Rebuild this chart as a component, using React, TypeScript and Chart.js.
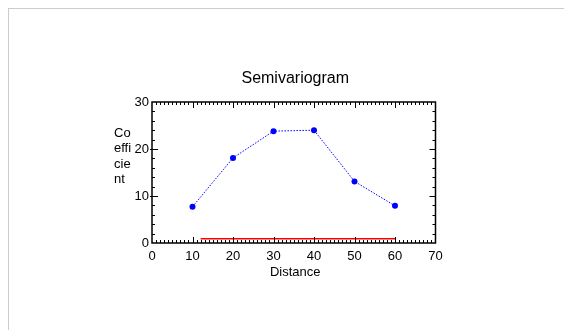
import { useEffect, useRef } from "react";
import { Chart, registerables } from "chart.js";

Chart.register(...registerables);

const distances = [10, 20, 30, 40, 50, 60];
const coefficients = [7.7, 18.1, 23.8, 24.0, 13.1, 7.9];
const sillX = [12, 60];
const sillY = [0.9, 0.9];
const xTickValues = [0, 10, 20, 30, 40, 50, 60, 70];
const yTickValues = [0, 10, 20, 30];
const titleText = "Semivariogram";
const xTitleText = "Distance";
const yTitleLines = ["Co", "effi", "cie", "nt"];

const FONT = "'Liberation Sans', Arial, sans-serif";

const framePlugin = {
  id: "frame",
  afterDraw(chart: any) {
    const { ctx, chartArea } = chart;
    const xs = chart.scales.x;
    const ys = chart.scales.y;
    const { left, right, top, bottom } = chartArea;
    ctx.save();
    ctx.strokeStyle = "#000";
    ctx.lineWidth = 1.5;
    ctx.strokeRect(left, top, right - left, bottom - top);
    ctx.lineWidth = 1;
    ctx.beginPath();
    const xMin = xTickValues[0];
    const xMax = xTickValues[xTickValues.length - 1];
    for (let v = xMin + 1; v < xMax; v++) {
      const px = Math.round(xs.getPixelForValue(v)) + 0.5;
      const len = v % 10 === 0 ? 6 : 3;
      ctx.moveTo(px, bottom);
      ctx.lineTo(px, bottom - len);
      ctx.moveTo(px, top);
      ctx.lineTo(px, top + len);
    }
    const yMin = yTickValues[0];
    const yMax = yTickValues[yTickValues.length - 1];
    for (let v = yMin + 2; v < yMax; v += 2) {
      const py = Math.round(ys.getPixelForValue(v)) + 0.5;
      const major = v % 10 === 0;
      const len = major ? 6 : 3;
      ctx.moveTo(left - (major ? 2 : 0), py);
      ctx.lineTo(left + len, py);
      ctx.moveTo(right, py);
      ctx.lineTo(right - len, py);
    }
    ctx.stroke();

    ctx.fillStyle = "#000";
    ctx.font = `16px ${FONT}`;
    ctx.textAlign = "center";
    ctx.textBaseline = "middle";
    const cx = (left + right) / 2 + 1.5;
    ctx.fillText(titleText, cx, top - 23.5);

    ctx.font = `13px ${FONT}`;
    ctx.fillText(xTitleText, cx, bottom + 29.5);

    ctx.textAlign = "left";
    yTitleLines.forEach((line, i) => {
      ctx.fillText(line, left - 38, top + 31.5 + i * 15.3);
    });
    ctx.restore();
  },
};

export default function App() {
  const canvasRef = useRef<HTMLCanvasElement | null>(null);

  useEffect(() => {
    if (!canvasRef.current) return;
    const chart = new Chart(canvasRef.current, {
      type: "line",
      data: {
        datasets: [
          {
            data: distances.map((d, i) => ({ x: d, y: coefficients[i] })),
            borderColor: "#0000ff",
            backgroundColor: "#0000ff",
            borderWidth: 1,
            borderDash: [1.5, 1.5],
            pointRadius: 3,
            pointBorderWidth: 0,
            pointBackgroundColor: "#0000ff",
            tension: 0,
          },
          {
            data: sillX.map((d, i) => ({ x: d, y: sillY[i] })),
            borderColor: "#ff0000",
            borderWidth: 1.5,
            pointRadius: 0,
            tension: 0,
          },
        ],
      },
      options: {
        responsive: false,
        animation: false,
        layout: { padding: { left: 0, top: 93, right: 120.5, bottom: 0 } },
        plugins: {
          legend: { display: false },
          title: { display: false },
          tooltip: { enabled: false },
        },
        scales: {
          x: {
            type: "linear",
            min: xTickValues[0],
            max: xTickValues[xTickValues.length - 1],
            afterBuildTicks: (s: any) => {
              s.ticks = xTickValues.map((v) => ({ value: v }));
            },
            afterFit: (s: any) => {
              s.height = 79;
            },
            grid: { display: false, drawTicks: false, tickLength: 0 },
            border: { display: false },
            ticks: {
              padding: 5.2,
              color: "#000",
              font: { family: FONT, size: 13 },
              maxRotation: 0,
              autoSkip: false,
            },
          },
          y: {
            type: "linear",
            min: yTickValues[0],
            max: yTickValues[yTickValues.length - 1],
            afterBuildTicks: (s: any) => {
              s.ticks = yTickValues.map((v) => ({ value: v }));
            },
            afterFit: (s: any) => {
              s.width = 143;
            },
            grid: { display: false, drawTicks: false, tickLength: 0 },
            border: { display: false },
            ticks: {
              padding: 3,
              color: "#000",
              font: { family: FONT, size: 13 },
              autoSkip: false,
            },
          },
        },
      },
      plugins: [framePlugin],
    });
    return () => chart.destroy();
  }, []);

  return (
    <div style={{ width: 547, height: 313, paddingLeft: 1, paddingTop: 1 }}>
      <div
        style={{
          position: "fixed",
          left: 8,
          top: 8,
          right: 0,
          bottom: 0,
          borderLeft: "1px solid #cccccc",
          borderTop: "1px solid #cccccc",
          pointerEvents: "none",
        }}
      />
      <canvas ref={canvasRef} width={547} height={313} style={{ display: "block" }} />
    </div>
  );
}
